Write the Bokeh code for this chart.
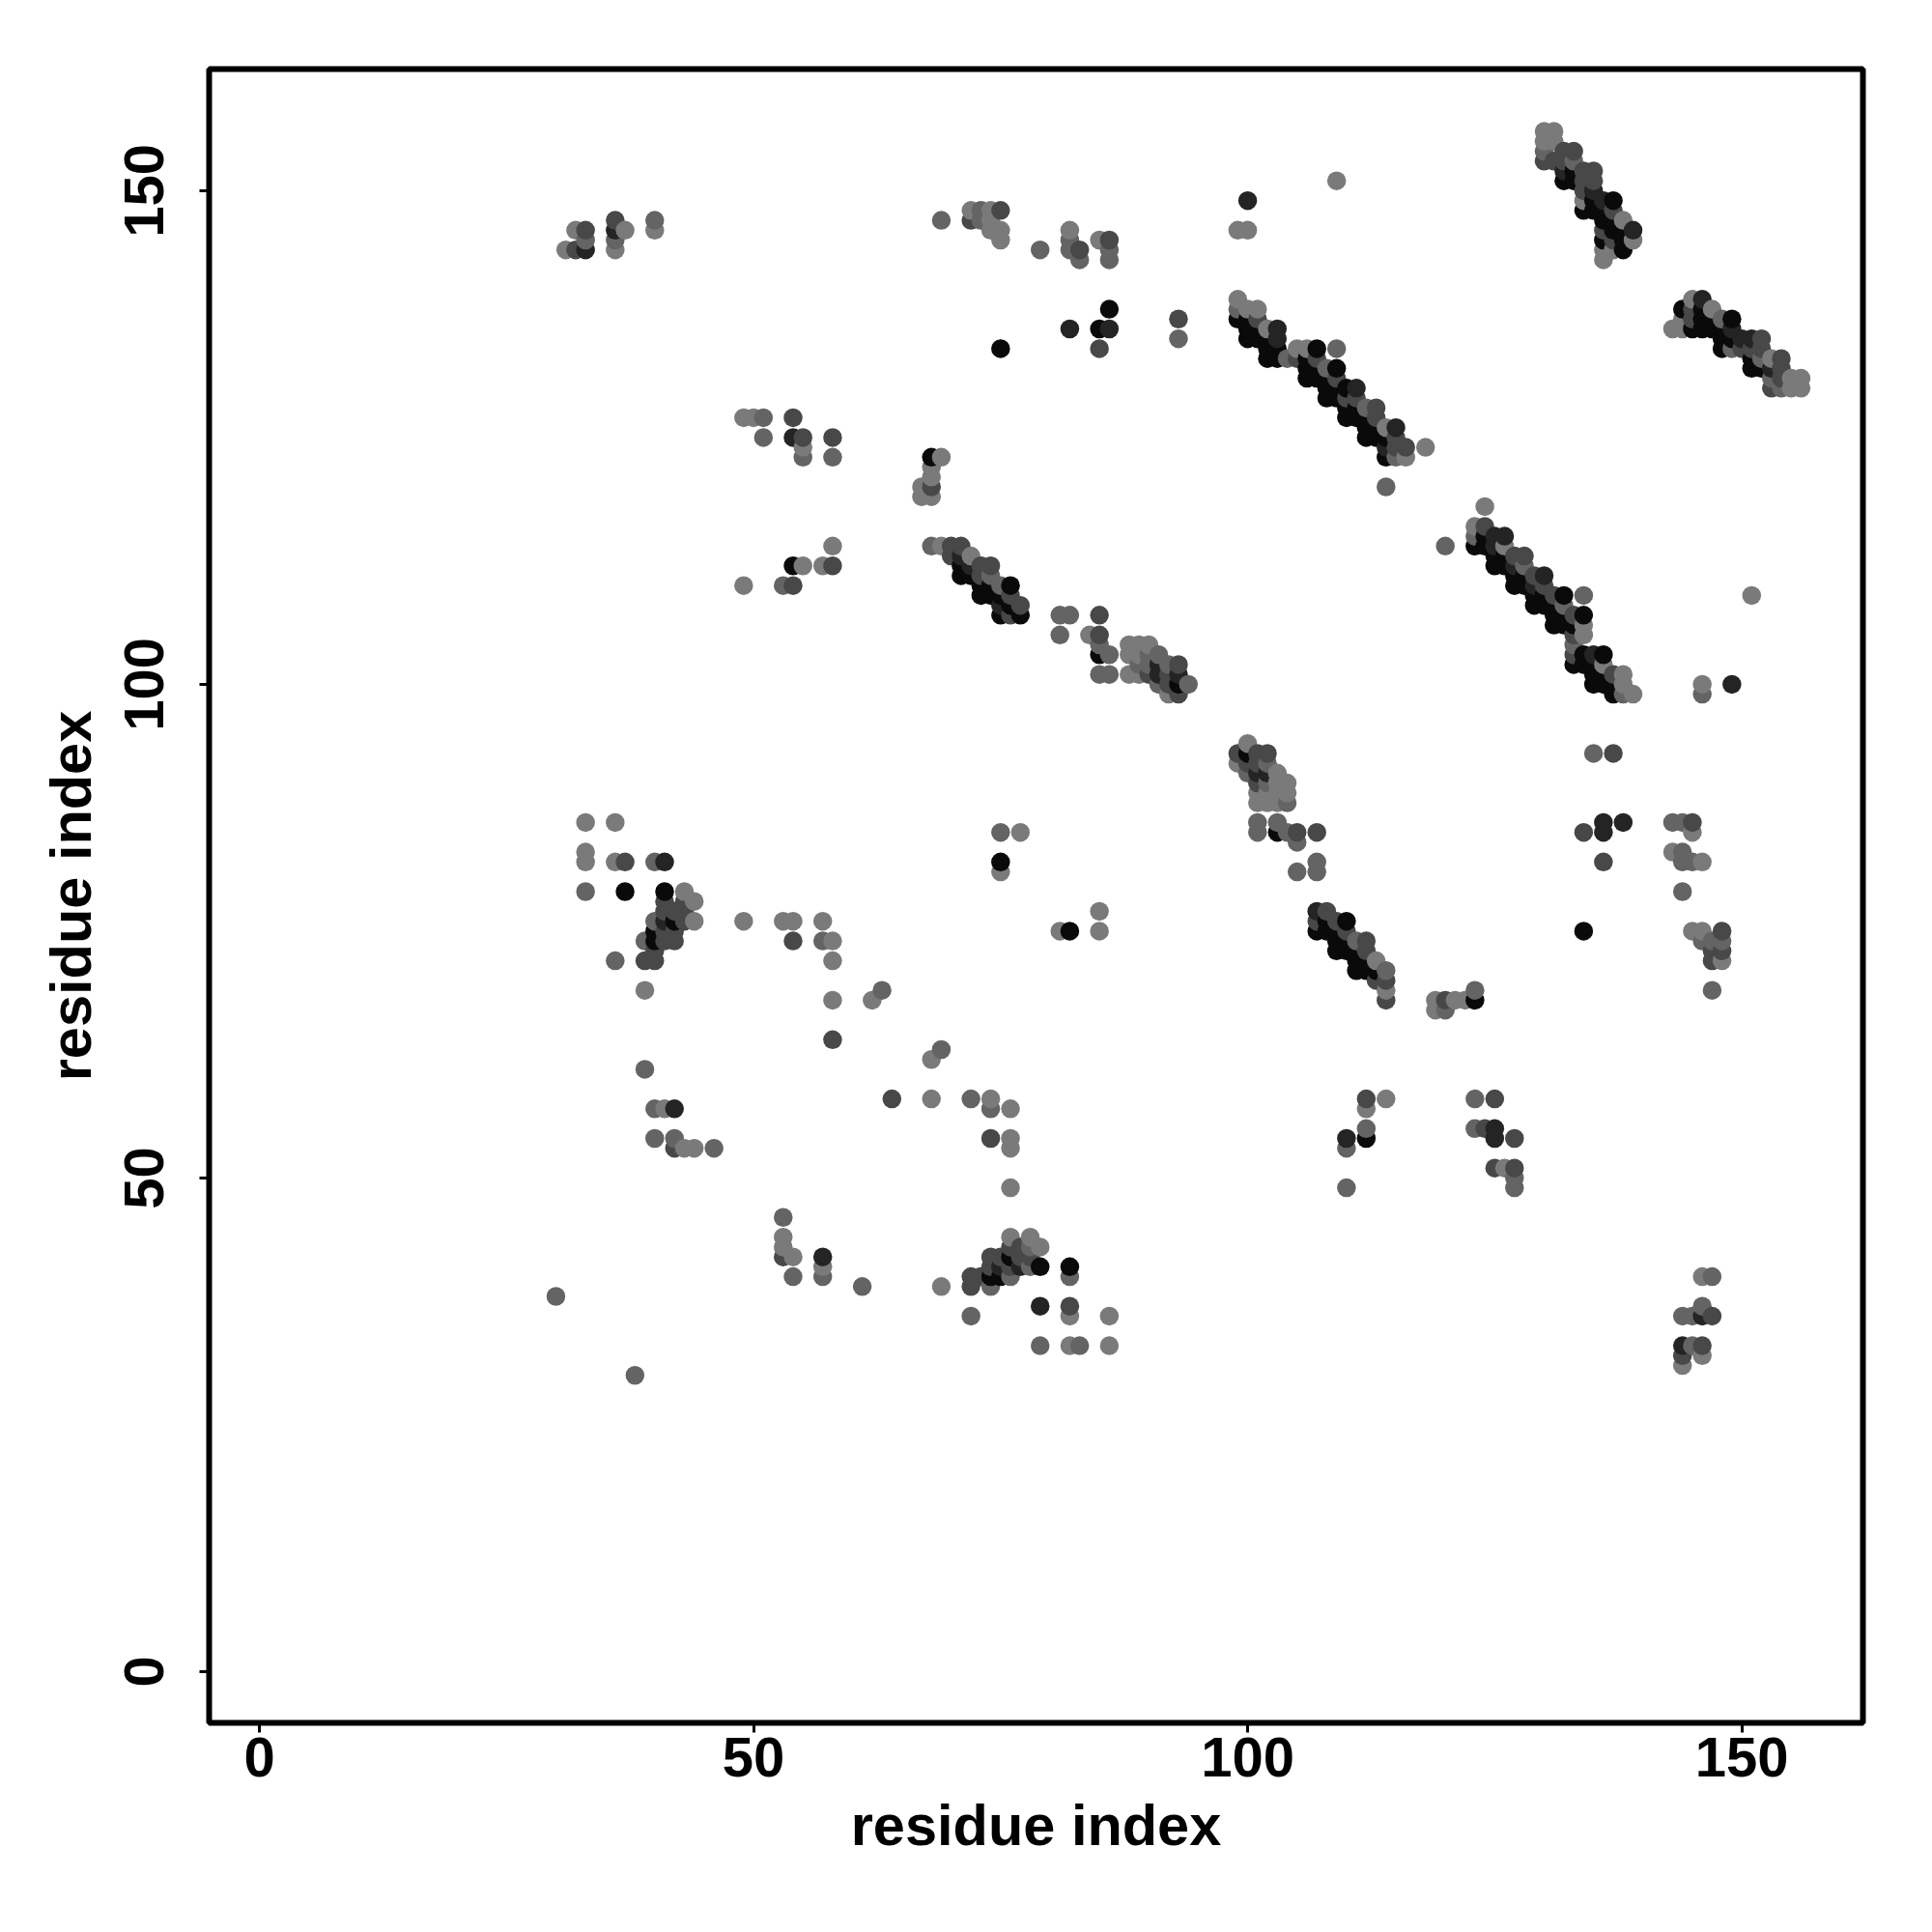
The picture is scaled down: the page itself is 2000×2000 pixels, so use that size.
import numpy as np
from bokeh.plotting import figure
from bokeh.models import Range1d, FixedTicker, ColumnDataSource
from bokeh.embed import file_html
from bokeh.resources import INLINE

tick_values = [0, 50, 100, 150]
axis_title = "residue index"
shade_grays = [122, 100, 72, 36, 10]  # strength 0 (weak) .. 4 (strong)

residue_a = [30,31,32,33,36,37,38,39,40,41,42,43,44,46,49,50,51,53,54,55,57,58,61,62,63,64,67,68,69,70,71,72,73,74,75,76,77,78,79,81,82,83,84,85,86,88,89,90,91,92,93,94,99,100,101,102,103,104,105,106,107,108,109,110,111,112,113,114,115,116,118,119,120,121,122,123,124,125,126,127,128,129,130,131,132,133,134,135,136,137,138,139,143,144,145,146,147,148,149,150,151,152,153,154,155,156]
residue_b = [
[38],[144],[144,146],[79,82,83,86,144,145,146],[72,82,86,144,145,146,147],[79,82,146],[30],[61,69,72,74],
[54,57,72,73,74,75,76,82,146,147],[57,74,75,76,77,78,79,82],[53,54,57,74,75,76,77],[53,76,77,78,79],[53,76,78],[53],
[76,110,127],[127],[125,127],[42,43,44,46,76,110],[40,42,74,76,110,112,125,127],[112,123,124,125],[40,41,42,74,76,112],
[64,68,72,74,112,114,123,125],[39],[68],[69],[58],[119,120],[58,62,114,119,120,121,122,123],[39,63,114,123,147],[113,114],
[111,112,113,114],[36,39,40,58,111,112,113,147,148],[40,109,110,111,112,147,148],[39,40,41,42,54,57,58,109,110,111,112,146,147,148],
[40,41,42,81,82,85,107,108,109,110,134,145,146,148],[40,41,42,43,44,49,53,54,57,107,108,109,110],[41,42,43,85,107,108],[41,42,43,44],
[33,37,41,43,144],[75,105,107],[33,36,37,40,41,75,107,136,144,145,146],[33,143,144],[105],[75,77,101,103,104,105,107,134,136,145],
[33,36,101,103,136,138,143,144,145],[101,103,104],[101,102,103,104],[101,102,103,104],[100,101,102,103],[99,100,101,102],
[99,100,101,102,135,137],[100],[92,93,137,138,139,146],[91,92,93,94,135,136,137,138,146,149],[85,86,88,89,90,91,92,93,135,136,137,138],
[88,89,90,91,92,93,133,134,135,136],[85,86,88,89,90,91,133,134,135,136],[85,88,89,90,133],[81,84,85,133,134],[131,132,133,134],
[75,76,77,81,82,85,131,132,133,134],[75,76,77,129,130,131,132],[73,74,75,76,129,130,131,132,134,151],[49,53,54,73,74,75,76,127,128,129,130],
[71,72,73,74,127,128,129,130],[54,55,57,58,71,72,73,74,125,126,127,128],[70,71,72,125,126,127,128],[58,68,69,70,71,120,123,124,125,126],
[123,124,125,126],[123,124],[124],[67,68],[67,68,114],[68],[68],[55,58,68,69,114,115,116],[55,114,115,116,118],
[51,54,55,58,112,113,114,115],[51,112,113,114,115],[49,50,51,54,110,111,112,113],[110,111,112,113],[108,109,110,111],
[108,109,110,111,153,154,155,156],[106,107,108,109,153,155,156],[106,107,108,109,151,152,153,154],[102,103,104,105,106,107,151,152,153,154],
[75,85,102,103,105,106,107,109,148,149,150,151,152],[93,100,101,102,103,148,149,150,151,152],[82,85,86,100,101,102,103,143,144,145,146,147,148,149],
[93,99,100,101,144,145,146,147,148,149],[86,99,100,101,144,145,146,147],[99,145,146],[83,86,136],[31,32,33,36,79,82,83,86,136,137,138],
[33,36,75,82,85,86,136,137,138,139],[32,33,36,37,40,74,75,82,99,100,136,137,138,139],[36,40,69,72,73,74,136,137,138],
[72,73,74,75,134,135,136,137],[100,134,135,136,137],[134,135],[109,132,133,134,135],[132,133,134,135],[130,131,132,133],[130,131,132,133],
[130,131],[130,131],
]
strength = [
[1],[0],[2,0],[1,0,0,0,3,1,2],[1,0,0,0,1,3,2],[4,2,0],[1],[1,0,2,1],
[1,1,2,2,4,4,1,1,0,1],[0,2,2,3,2,2,4,3],[2,1,3,2,2,4,2],[0,2,2,2,0],[0,0,0],[1],
[0,0,0],[0],[1,1],[2,0,0,1,0,1],[1,0,2,0,2,4,3,2],[0,1,0,2],[1,0,3,1,0,0],
[2,0,0,0,2,0,1,2],[1],[0],[1],[2],[0,0],[0,0,1,0,2,0,0,4],[0,1,0,0,1],[2,2],
[4,4,3,2],[1,2,2,1,4,3,0,2,0],[2,4,4,2,2,1,1],[1,4,2,2,2,1,0,4,4,1,2,0,0,0],
[4,3,2,0,4,1,4,3,4,1,4,0,0,2],[1,2,4,2,0,0,0,0,0,2,4,2,4],[3,2,2,0,4,2],[1,2,1,0],
[1,3,4,0,1],[0,1,1],[0,0,2,1,4,4,1,3,1,1,0],[1,1,2],[0],[0,0,1,4,1,2,2,2,4,0],
[0,0,1,1,3,4,1,1,2],[0,0,0],[0,1,0,0],[2,1,1,0],[1,3,3,1],[0,2,2,1],
[2,4,3,2,1,2],[1],[0,2,4,1,0,0],[1,2,4,0,4,4,4,0,0,3],[1,1,0,0,2,3,2,2,4,4,2,0],
[0,0,1,3,1,2,4,4,4,0],[4,1,0,0,0,0,4,4,3,3],[1,1,0,0,1],[1,1,2,2,0],[4,4,4,0],
[4,2,3,1,1,2,4,4,2,4],[4,4,2,4,4,4,1],[4,4,4,2,4,4,2,4,1,0],[1,1,3,4,4,2,4,4,4,2,4],
[4,4,4,1,4,4,2,3],[4,1,0,2,4,4,2,2,4,4,4,1],[2,4,0,4,4,2,2],[0,2,0,2,1,1,4,3,4,0],
[1,2,2,3],[0,2],[0],[0,0],[1,2,1],[0],[0],[1,1,4,1,4,1,0],[2,4,4,2,0],
[2,3,3,2,4,4,3,3],[0,4,4,0,3],[1,1,2,2,4,4,3,2],[4,4,1,2],[4,4,3,2],
[4,4,2,3,2,1,0,0],[4,4,4,2,2,0,0],[4,4,1,4,4,3,2,2],[4,2,1,2,4,2,4,4,1,2],
[4,2,4,4,0,0,4,1,4,0,2,2,2],[1,4,4,4,3,4,4,3,2,2],[2,3,3,4,4,0,4,0,0,4,2,4,4,3],
[2,4,4,2,0,2,4,4,2,4],[3,1,0,0,4,4,4,0],[0,0,3],[0,1,0],[0,2,3,1,1,1,1,1,0,0,4],
[1,1,0,1,0,2,4,2,2,0],[0,2,3,1,0,1,0,0,1,0,4,4,4,3],[2,1,1,2,2,1,4,4,0],
[0,2,1,2,4,4,4,1],[3,1,4,3,4],[2,3],[0,4,4,2,3],[4,1,2,2],[2,1,3,0],[1,2,2,2],
[0,0],[0,0],
]

xs, ys, ss = [], [], []
for a, bs, st in zip(residue_a, residue_b, strength):
    assert len(bs) == len(st), a
    for b, s in zip(bs, st):
        xs.append(a); ys.append(b); ss.append(s)
order = np.lexsort((ys, xs))
xs = np.array(xs)[order]; ys = np.array(ys)[order]; ss = np.array(ss)[order]
colors = ["#" + ("%02x" % shade_grays[s]) * 3 for s in ss]
src = ColumnDataSource(dict(x=xs, y=ys, c=colors))

p = figure(frame_width=1712, frame_height=1712,
           x_range=Range1d(-5.09, 162.26), y_range=Range1d(-5.2, 162.32),
           min_border_left=216, min_border_top=71, min_border_right=40, min_border_bottom=190,
           output_backend="svg", toolbar_location=None, background_fill_color="white")
p.scatter("x", "y", source=src, size=19.5, fill_color="c", line_color=None)

p.grid.visible = False
p.outline_line_color = "black"
p.outline_line_width = 6
for ax in (p.xaxis[0], p.yaxis[0]):
    ax.ticker = FixedTicker(ticks=tick_values)
    ax.axis_line_color = None
    ax.major_tick_line_color = "black"
    ax.major_tick_line_width = 3
    ax.major_tick_in = 0
    ax.major_tick_out = 10
    ax.minor_tick_line_color = None
    ax.axis_label = axis_title
    ax.axis_label_text_font = "Liberation Sans"
    ax.axis_label_text_font_style = "bold"
    ax.axis_label_text_font_size = "59.5px"
    ax.axis_label_text_color = "black"
    ax.major_label_text_font = "Liberation Sans"
    ax.major_label_text_font_style = "bold"
    ax.major_label_text_font_size = "58px"
    ax.major_label_text_color = "black"
p.yaxis[0].major_label_orientation = "parallel"
p.xaxis[0].major_label_standoff = 5
p.xaxis[0].axis_label_standoff = 14
p.yaxis[0].major_label_standoff = 37
p.yaxis[0].axis_label_standoff = 20

open("out.html", "w").write(file_html(p, INLINE))
